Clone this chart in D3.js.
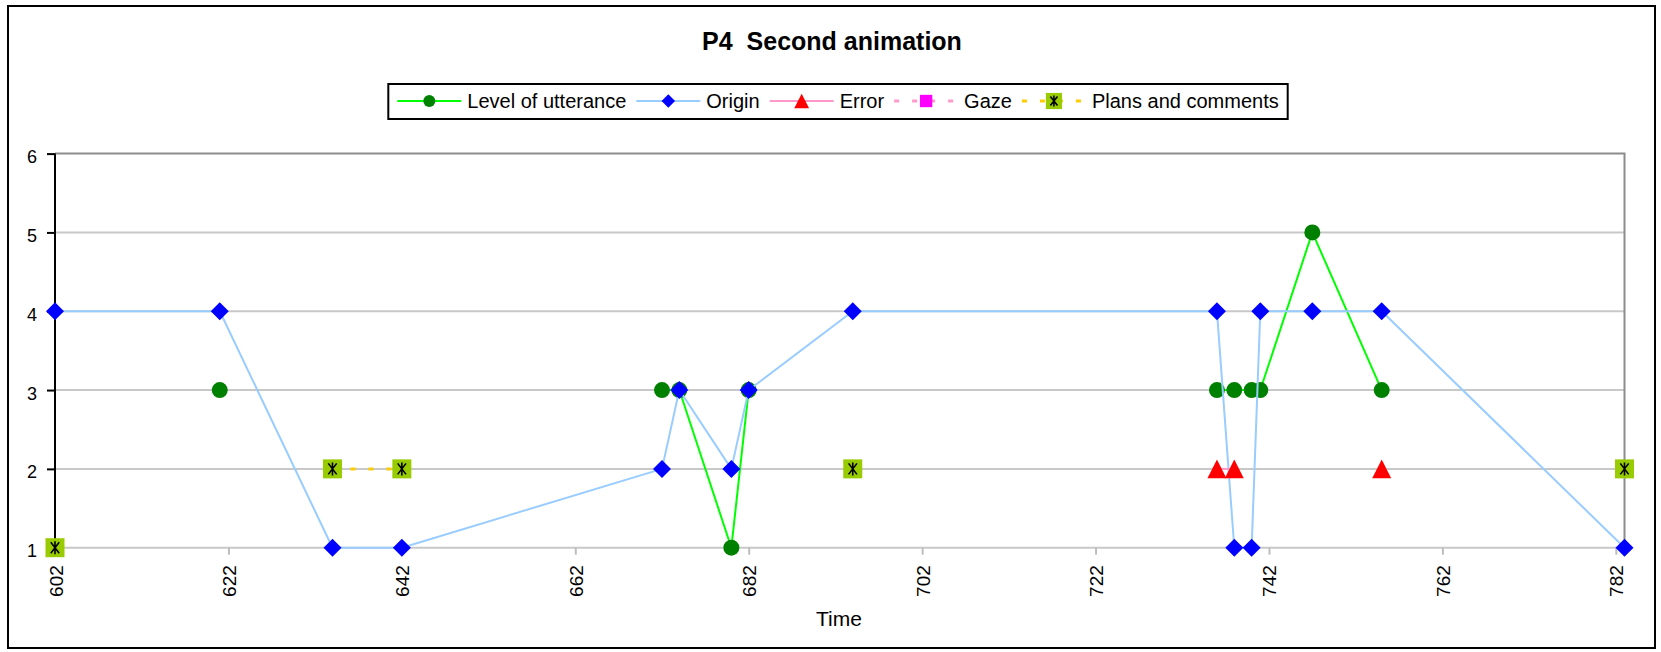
<!DOCTYPE html>
<html>
<head>
<meta charset="utf-8">
<script src="https://cdn.jsdelivr.net/npm/d3@7"></script>
<style>
  html, body { margin: 0; padding: 0; background: #fff; }
  svg { display: block; font-family: "Liberation Sans", Arial, sans-serif; }
</style>
</head>
<body>
<svg id="chart" width="1661" height="652"></svg>
<script>
// Observation times (seconds) and the coded value of each channel at that time.
const times = [602, 621, 634, 642, 672, 674, 680, 682, 694, 736, 738, 740, 741, 747, 755, 783];
const levelOfUtterance = [null, 3, null, null, 3, 3, 1, 3, null, 3, 3, 3, 3, 5, 3, null];
const origin = [4, 4, 1, 1, 2, 3, 2, 3, 4, 4, 1, 1, 4, 4, 4, 1];
const error = [null, null, null, null, null, null, null, null, null, 2, 2, null, null, null, 2, null];
const gaze = [null, null, null, null, null, null, null, null, null, null, null, null, null, null, null, null];
const plansAndComments = [1, null, 2, 2, null, null, null, null, 2, null, null, null, null, null, null, 2];

const xTicks = [602, 622, 642, 662, 682, 702, 722, 742, 762, 782];
const yTicks = [1, 2, 3, 4, 5, 6];
const seriesNames = ["Level of utterance", "Origin", "Error", "Gaze", "Plans and comments"];
const chartTitle = "P4  Second animation";
const xTitle = "Time";

const seriesStyle = [
  { values: levelOfUtterance, line: "#00FF00", dash: null, marker: "circle", fill: "#008000" },
  { values: origin, line: "#99CCFF", dash: null, marker: "diamond", fill: "#0000FF" },
  { values: error, line: "#FF99CC", dash: null, marker: "triangle", fill: "#FF0000" },
  { values: gaze, line: "#FF99CC", dash: "5,13", marker: "square", fill: "#FF00FF" },
  { values: plansAndComments, line: "#FFCC00", dash: "5,13", marker: "star", fill: "#99CC00" }
];

const svg = d3.select("#chart");
const W = 1661, H = 652;

svg.append("rect").attr("width", W).attr("height", H).attr("fill", "#fff");
// chart frame
svg.append("rect")
  .attr("x", 8).attr("y", 6).attr("width", 1647).attr("height", 642)
  .attr("fill", "none").attr("stroke", "#000").attr("stroke-width", 2);

const x = d3.scaleLinear().domain([602, 783]).range([55, 1624.5]);
const y = d3.scaleLinear().domain([1, 6]).range([547.7, 153.6]);

// marker shapes, scale factor s (1 = plot size)
function drawMarker(g, type, fill, s) {
  if (type === "circle") {
    g.append("circle").attr("r", 8 * s).attr("fill", fill);
  } else if (type === "diamond") {
    const w = 9 * s, h = 9 * s;
    g.append("path").attr("d", `M0,${-h}L${w},0L0,${h}L${-w},0Z`).attr("fill", fill);
  } else if (type === "triangle") {
    const w = 9.5 * s, h = 9.3 * s;
    g.append("path").attr("d", `M0,${-h}L${w},${h}L${-w},${h}Z`).attr("fill", fill);
  } else if (type === "square") {
    const a = 6.5 * s;
    g.append("rect").attr("x", -a).attr("y", -a).attr("width", 2 * a).attr("height", 2 * a).attr("fill", fill);
  } else if (type === "star") {
    const a = 9.5 * s;
    g.append("rect").attr("x", -a).attr("y", -a).attr("width", 2 * a).attr("height", 2 * a).attr("fill", fill);
    const v = 6.5 * s, d = 4.2 * s;
    g.append("path")
      .attr("d", `M0,${-v}L0,${v}M${-d},${-v + 1}L${d},${v - 1}M${d},${-v + 1}L${-d},${v - 1}`)
      .attr("stroke", "#000").attr("stroke-width", 1.6).attr("fill", "none");
  }
}

// gridlines
const grid = svg.append("g");
grid.selectAll("line").data(yTicks.filter(v => v < 6)).join("line")
  .attr("x1", x.range()[0]).attr("x2", x.range()[1])
  .attr("y1", d => y(d)).attr("y2", d => y(d))
  .attr("stroke", "#C8C8C8").attr("stroke-width", 2);
// plot area border (top and right)
grid.append("path")
  .attr("d", `M${x.range()[0]},${y(6)}H${x.range()[1]}V${y(1)}`)
  .attr("fill", "none").attr("stroke", "#8C8C8C").attr("stroke-width", 2);

// x axis
const xAxis = svg.append("g")
  .attr("transform", `translate(0,${y(1)})`)
  .call(d3.axisBottom(x).tickValues(xTicks).tickSize(7).tickFormat(d3.format("d")));
xAxis.select(".domain").remove();
xAxis.selectAll(".tick line").attr("stroke", "#BDBDBD").attr("stroke-width", 2);
xAxis.selectAll(".tick text")
  .attr("transform", "rotate(-90)")
  .attr("x", -17.5).attr("y", 7).attr("dy", 0)
  .attr("text-anchor", "end")
  .attr("font-size", 19).attr("fill", "#000")
  .style("font-family", "'Liberation Sans', Arial, sans-serif");

// y axis
const yAxis = svg.append("g")
  .attr("transform", `translate(${x.range()[0]},0)`)
  .call(d3.axisLeft(y).tickValues(yTicks).tickSize(8).tickPadding(10).tickFormat(d3.format("d")));
yAxis.select(".domain").attr("d", `M0,${y(6)}V${y(1)}`).attr("stroke", "#000").attr("stroke-width", 2);
yAxis.selectAll(".tick line").attr("stroke", "#000").attr("stroke-width", 2);
yAxis.selectAll(".tick text")
  .attr("dy", "0.5em")
  .attr("font-size", 18).attr("fill", "#000")
  .style("font-family", "'Liberation Sans', Arial, sans-serif");

// series: line then markers, in series order
const plot = svg.append("g");
seriesStyle.forEach(s => {
  const pts = times.map((t, i) => ({ t, v: s.values[i] }));
  const line = d3.line().defined(d => d.v != null).x(d => x(d.t)).y(d => y(d.v));
  plot.append("path").datum(pts)
    .attr("d", line)
    .attr("fill", "none")
    .attr("stroke", s.line)
    .attr("stroke-width", s.dash ? 3 : 2)
    .attr("stroke-dasharray", s.dash)
    .attr("stroke-linejoin", "round");
  pts.filter(d => d.v != null).forEach(d => {
    const g = plot.append("g").attr("transform", `translate(${x(d.t)},${y(d.v)})`);
    drawMarker(g, s.marker, s.fill, 1);
  });
});

// title
svg.append("text")
  .attr("x", 832).attr("y", 50)
  .attr("text-anchor", "middle")
  .attr("font-size", 25).attr("font-weight", "bold")
  .style("white-space", "pre")
  .text(chartTitle);

// x-axis title
svg.append("text")
  .attr("x", 839).attr("y", 626)
  .attr("text-anchor", "middle")
  .attr("font-size", 21)
  .text(xTitle);

// legend
const legend = svg.append("g");
const legendBox = legend.append("rect")
  .attr("fill", "#fff").attr("stroke", "#000").attr("stroke-width", 2);
const items = legend.append("g");
let cursor = 0;
const legendY = 101;
seriesStyle.forEach((s, i) => {
  const g = items.append("g").attr("transform", `translate(${cursor},0)`);
  g.append("line")
    .attr("x1", 0).attr("x2", 64).attr("y1", legendY).attr("y2", legendY)
    .attr("stroke", s.line).attr("stroke-width", s.dash ? 3 : 2)
    .attr("stroke-dasharray", s.dash);
  const m = g.append("g").attr("transform", `translate(32,${legendY})`);
  const scale = s.marker === "star" ? 0.85 : s.marker === "square" ? 0.95 : s.marker === "triangle" ? 0.78 : 0.75;
  drawMarker(m, s.marker, s.fill, scale);
  const txt = g.append("text")
    .attr("x", 70).attr("y", legendY + 7)
    .attr("font-size", 20)
    .text(seriesNames[i]);
  cursor += 70 + txt.node().getComputedTextLength() + 10;
});
const totalW = cursor - 10;
const boxW = totalW + 9 + 9;
const boxX = 838 - boxW / 2;
items.attr("transform", `translate(${boxX + 9},0)`);
legendBox.attr("x", boxX).attr("y", 84).attr("width", boxW).attr("height", 35);
</script>
</body>
</html>
